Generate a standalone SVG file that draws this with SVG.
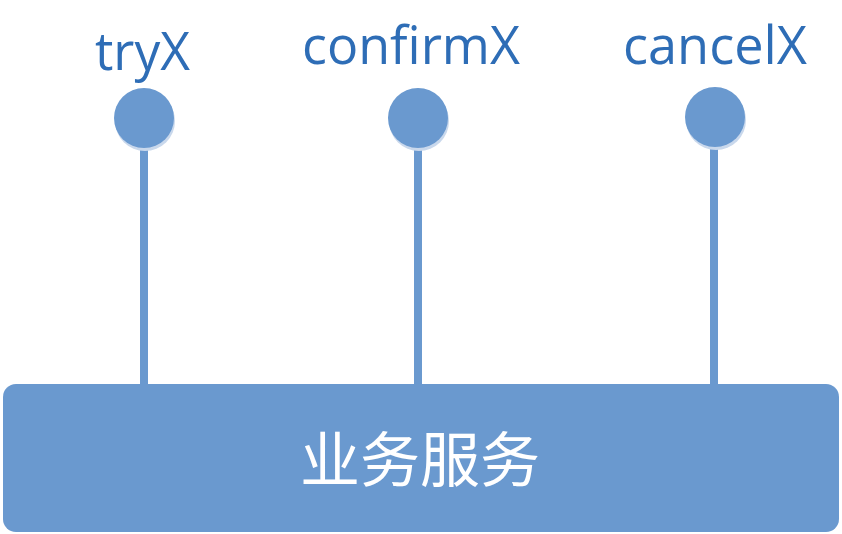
<svg xmlns="http://www.w3.org/2000/svg" width="842" height="534" viewBox="0 0 842 534">
<style>
.lbl{font-family:"Open Sans","Liberation Sans",sans-serif;font-size:53px;fill:#2E6DB6;}
.port{fill:#6A99CF;}
.shadow{fill:#C9D8EC;}
.conn{stroke:#6A99CF;stroke-width:8;fill:none;}
.box{fill:#6A99CF;}
.title{font-family:"Noto Sans CJK SC","Noto Sans",sans-serif;font-size:60px;fill:#FFFFFF;}
</style>
<rect width="842" height="534" fill="#FFFFFF"/>
<g id="connectors">
<line class="conn" x1="144" y1="140" x2="144" y2="386"/>
<line class="conn" x1="418" y1="140" x2="418" y2="386"/>
<line class="conn" x1="714" y1="140" x2="714" y2="386"/>
</g>
<g id="node-service">
<rect class="box" x="3" y="384" width="836" height="148" rx="13" ry="13"/>
<text class="title" x="420" y="482" text-anchor="middle">业务服务</text>
</g>
<g id="node-tryX">
<circle class="shadow" cx="145" cy="121" r="30"/>
<circle class="port" cx="144" cy="118" r="30"/>
<text class="lbl" x="95" y="70" textLength="95" lengthAdjust="spacingAndGlyphs">tryX</text>
</g>
<g id="node-confirmX">
<circle class="shadow" cx="419" cy="121" r="30"/>
<circle class="port" cx="418" cy="118" r="30"/>
<text class="lbl" x="302" y="64" textLength="218" lengthAdjust="spacingAndGlyphs">confirmX</text>
</g>
<g id="node-cancelX">
<circle class="shadow" cx="716" cy="120" r="30"/>
<circle class="port" cx="715" cy="117" r="30"/>
<text class="lbl" x="623" y="64" textLength="184" lengthAdjust="spacingAndGlyphs">cancelX</text>
</g>
</svg>
